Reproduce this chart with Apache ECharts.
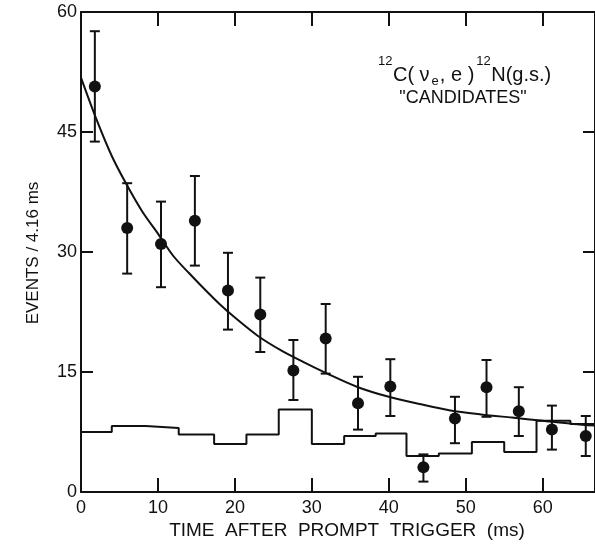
<!DOCTYPE html>
<html>
<head>
<meta charset="utf-8">
<script src="https://cdn.jsdelivr.net/npm/echarts@6/dist/echarts.min.js"></script>
<style>html,body{margin:0;padding:0;background:#fff;}#c{width:595px;height:544px;}</style>
</head>
<body>
<div id="c"></div>
<script>
// ---- data ----
var xTicks = [0, 10, 20, 30, 40, 50, 60];
var yTicks = [0, 15, 30, 45, 60];
// data points (time ms, events) with error bar ends
var pointX = [1.8, 6.0, 10.4, 14.8, 19.1, 23.3, 27.6, 31.8, 36.0, 40.2, 44.5, 48.6, 52.7, 56.9, 61.2, 65.6];
var pointY = [50.7, 33.0, 31.0, 33.9, 25.2, 22.2, 15.2, 19.2, 11.1, 13.2, 3.1, 9.2, 13.1, 10.1, 7.8, 7.0];
var errHigh = [57.6, 38.6, 36.3, 39.5, 29.9, 26.8, 19.0, 23.5, 14.4, 16.6, 4.7, 11.9, 16.5, 13.1, 10.8, 9.5];
var errLow = [43.8, 27.3, 25.6, 28.3, 20.3, 17.5, 11.5, 14.8, 7.8, 9.5, 1.3, 6.1, 9.4, 7.0, 5.3, 4.5];
// background histogram: left bin edges and bin heights
var histEdges = [0, 4.0, 8.4, 12.7, 17.3, 21.5, 25.7, 30.0, 34.2, 38.3, 42.3, 46.5, 50.8, 55.0, 59.2, 63.6, 66.8];
var histValues = [7.5, 8.25, 8.0, 7.2, 6.0, 7.2, 10.3, 6.0, 7.0, 7.3, 4.5, 4.8, 6.25, 5.0, 8.9, 8.5];
// fitted curve
var curveX = [0, 2, 4, 6, 8, 10, 12, 14, 16, 18, 20, 23, 26, 29, 32, 36, 40, 44, 48, 52, 56, 60, 64, 66.8];
var curveY = [51.8, 46.6, 42.0, 38.3, 35.0, 32.3, 29.5, 27.4, 25.4, 23.5, 21.8, 19.5, 17.7, 16.2, 14.8, 13.1, 11.9, 11.0, 10.2, 9.7, 9.3, 8.9, 8.5, 8.3];
var xMax = 66.8, yMax = 60;
var xTitle = 'TIME  AFTER  PROMPT  TRIGGER  (ms)';
var yTitle = 'EVENTS / 4.16 ms';
// annotation pieces: text and role (main / sup / sub)
var noteParts = ['12', 'C( ν', 'e', ', e )', '12', 'N(g.s.)'];
var noteRoles = ['sup', 'main', 'sub', 'main', 'sup', 'main'];
var noteLine2 = '"CANDIDATES"';

// ---- build ----
var ink = '#111';
var font = "'Liberation Sans', Arial, Helvetica, sans-serif";
var histData = histValues.map(function (v, i) { return [histEdges[i], v]; });
histData.push([histEdges[histEdges.length - 1], histValues[histValues.length - 1]]);
var curveData = curveX.map(function (x, i) { return [x, curveY[i]]; });
var pointData = pointX.map(function (x, i) { return [x, pointY[i]]; });
var errData = pointX.map(function (x, i) { return [x, errLow[i], errHigh[i]]; });

function axisX(pos, showLabel) {
  return {
    type: 'value', position: pos, min: 0, max: xMax, interval: 10,
    axisLine: { show: true, onZero: false, lineStyle: { color: ink, width: 2 } },
    axisTick: { show: true, inside: true, length: 14, lineStyle: { color: ink, width: 2 } },
    axisLabel: { show: showLabel, color: ink, fontSize: 18, fontFamily: font, margin: 7,
      showMaxLabel: false,
      formatter: function (v) { return xTicks.indexOf(v) >= 0 ? String(v) : ''; } },
    splitLine: { show: false }
  };
}
function axisY(pos, showLabel) {
  return {
    type: 'value', position: pos, min: 0, max: yMax, interval: 15,
    axisLine: { show: true, onZero: false, lineStyle: { color: ink, width: 2 } },
    axisTick: { show: true, inside: true, length: 12, lineStyle: { color: ink, width: 2 } },
    axisLabel: { show: showLabel, color: ink, fontSize: 18, fontFamily: font, margin: 4,
      formatter: function (v) { return yTicks.indexOf(v) >= 0 ? String(v) : ''; } },
    splitLine: { show: false }
  };
}

// annotation layout: measure each piece and place left to right
var measureCtx = document.createElement('canvas').getContext('2d');
var roleStyle = {
  main: { size: 20, dy: 75, gap: 2 },
  sup: { size: 13, dy: 61.5, gap: 0.5 },
  sub: { size: 13, dy: 81.5, gap: 1 }
};
var noteGraphics = [];
var cursor = 378;
noteParts.forEach(function (t, i) {
  var rs = roleStyle[noteRoles[i]];
  measureCtx.font = rs.size + 'px ' + font;
  noteGraphics.push({
    type: 'text', x: cursor, y: rs.dy,
    style: { text: t, fontSize: rs.size, fontFamily: font, fill: ink, textAlign: 'left', textVerticalAlign: 'middle' }
  });
  cursor += measureCtx.measureText(t).width + rs.gap;
});

var chart = echarts.init(document.getElementById('c'), null, { renderer: 'canvas' });
chart.setOption({
  backgroundColor: '#fff',
  animation: false,
  grid: { left: 81, right: 0, top: 12, bottom: 52 },
  xAxis: [axisX('bottom', true), axisX('top', false)],
  yAxis: [axisY('left', true), axisY('right', false)],
  series: [
    {
      type: 'line', data: histData, step: 'end', showSymbol: false,
      lineStyle: { color: ink, width: 2 }, z: 2
    },
    {
      type: 'line', data: curveData, smooth: 0.3, showSymbol: false,
      lineStyle: { color: ink, width: 2 }, z: 3
    },
    {
      type: 'custom', data: errData, z: 4,
      renderItem: function (params, api) {
        var x = api.value(0);
        var lo = api.coord([x, api.value(1)]);
        var hi = api.coord([x, api.value(2)]);
        var cw = 5;
        var st = { stroke: ink, lineWidth: 2 };
        return { type: 'group', children: [
          { type: 'line', shape: { x1: lo[0], y1: lo[1], x2: hi[0], y2: hi[1] }, style: st },
          { type: 'line', shape: { x1: hi[0] - cw, y1: hi[1], x2: hi[0] + cw, y2: hi[1] }, style: st },
          { type: 'line', shape: { x1: lo[0] - cw, y1: lo[1], x2: lo[0] + cw, y2: lo[1] }, style: st }
        ] };
      }
    },
    {
      type: 'scatter', data: pointData, symbol: 'circle', symbolSize: 12,
      itemStyle: { color: ink, opacity: 1 }, z: 5
    }
  ],
  graphic: [
    {
      type: 'text', x: 347, y: 531,
      style: { text: xTitle, fontSize: 19, fontFamily: font, fill: ink, textAlign: 'center', textVerticalAlign: 'middle' }
    },
    {
      type: 'text', x: 33, y: 253, rotation: Math.PI / 2,
      style: { text: yTitle, fontSize: 17, fontFamily: font, fill: ink, textAlign: 'center', textVerticalAlign: 'middle' }
    },
    {
      type: 'text', x: 463, y: 98,
      style: { text: noteLine2, fontSize: 18, fontFamily: font, fill: ink, textAlign: 'center', textVerticalAlign: 'middle' }
    }
  ].concat(noteGraphics)
});
</script>
</body>
</html>
